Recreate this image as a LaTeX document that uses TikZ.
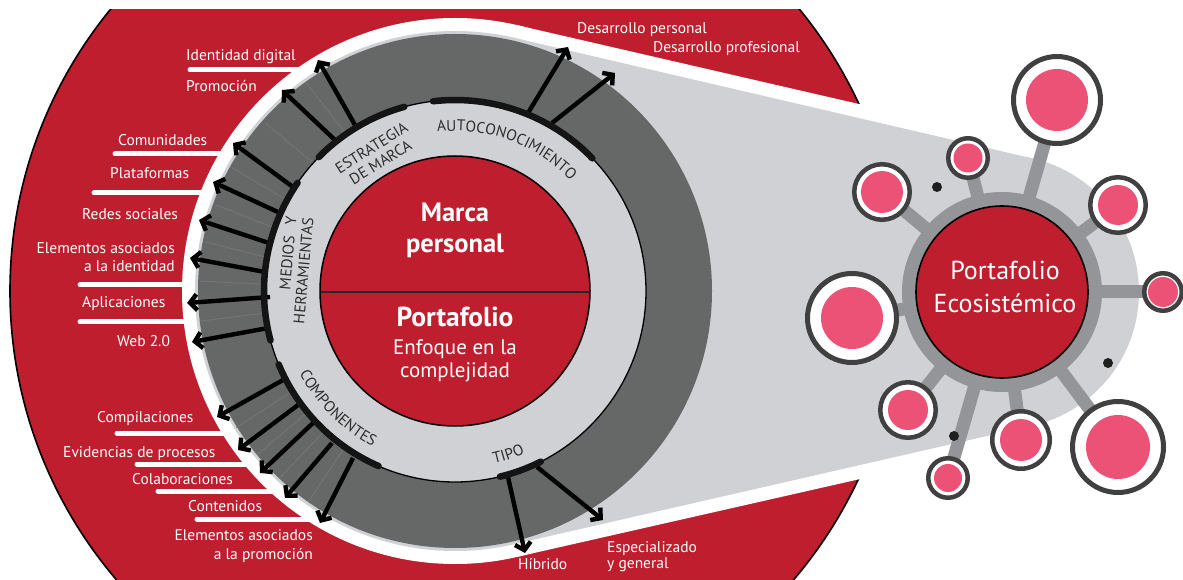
\documentclass[tikz,border=0pt]{standalone}
\usepackage{fontspec}
\setmainfont{PT Sans}
\usetikzlibrary{arrows.meta,decorations.text,calc}
\definecolor{cred}{HTML}{BE1E2D}
\definecolor{cdark}{HTML}{666867}
\definecolor{clight}{HTML}{D0D1D4}
\definecolor{cspoke}{HTML}{939598}
\definecolor{cpink}{HTML}{EC5276}
\definecolor{csat}{HTML}{404041}
\definecolor{ctext}{HTML}{2E2E2E}
\definecolor{csep}{HTML}{767877}
\newcommand{\ringfont}{\fontsize{15.5}{17}\selectfont}
\begin{document}
\begin{tikzpicture}[x=1pt,y=1pt,
  lbl/.style={text=white,font=\fontsize{15.5}{16}\selectfont,inner sep=0pt},
  ringtxt/.style={text=ctext,font=\ringfont,inner sep=0pt},
  ctr/.style={text=white,inner sep=0pt,anchor=base},
  arr/.style={line width=4.4pt,-{Straight Barb[length=7pt,width=16pt]}},
  bar/.style={white,line width=5pt,line cap=round},
  segarc/.style={line width=6.5pt,line cap=round,color=black!92},
  sepline/.style={csep,line width=0.8pt},
  spoke/.style={cspoke,line width=13pt},
  sat/.style={circle,fill=white,draw=csat,inner sep=0pt},
  dot/.style={circle,fill=black!88,inner sep=0pt,minimum size=10pt}]
\fill[white] (0,0) rectangle (1183,579);
\useasboundingbox (0,0) rectangle (1183,579);
\coordinate (C1) at (455,288);
\coordinate (C2) at (1002,287);
% big red disk
\begin{scope}
\clip (0,0) rectangle (1183,569);
\filldraw[fill=cred,draw=black,line width=1.6pt] (C1) circle[radius=445];
\end{scope}
% white hull
\fill[white] (C1) circle[radius=273];
\fill[white] (C2) circle[radius=151];
\fill[white] (515.9,554.1) -- (1035.7,434.2) -- (1035.7,139.8) -- (515.9,21.9) -- cycle;
% white bars
\foreach \i/\a/\b/\y in {1/190/325/509,2/115/245/425,3/94/225/386,4/80/205/294,5/80/207/257,6/117/247/146,7/137/271/115,8/158/299/88,9/197/340/60}{
  \coordinate (b\i a) at (\a,\y);
  \coordinate (b\i b) at (\b,\y);
  \draw[bar] (b\i a) -- (b\i b);
}
% light gray hull
\fill[clight] (C1) circle[radius=260];
\fill[clight] (C2) circle[radius=137];
\fill[clight] (513.5,541.3) -- (1032.8,420.5) -- (1032.8,153.5) -- (513.5,34.7) -- cycle;
% rings
\fill[cdark] (C1) circle[radius=257];
% arrow coordinates
\foreach \n/\sx/\sy/\ex/\ey in {1/355/454/318/519,2/335/439/282/489,3/293/392/233/436,4/280/366/213/397,5/269/336/199/359,6/265/307/190/321,7/270/282/187/276,8/268/251/192/237,9/283/199/217/162,10/298/174/238/129,11/313/156/260/106,12/332/136/285/81,13/353/121/320/56,14/528/466/568/532,15/552/456/615/506,16/508/102/525/26,17/537/112/603/59}{
  \coordinate (a\n s) at (\sx,\sy);
  \coordinate (a\n e) at (\ex,\ey);
}
% faint segment separators in the dark ring
\foreach \u/\v in {1/2,2/3,3/4,4/5,5/6,6/7,7/8,9/10,10/11,11/12,12/13}{
  \draw[sepline] ($(a\u s)!0.5!(a\v s)$) -- ($($(a\u s)!0.5!(a\v s)$)!0.86!($(a\u e)!0.5!(a\v e)$)$);
}
\filldraw[fill=clight,draw=black,line width=1.3pt] (C1) circle[radius=191];
\filldraw[fill=cred,draw=black,line width=1.5pt] (C1) circle[radius=135];
\draw[line width=1.5pt,black!85] (320.5,287) -- (589.5,287);
% arrows
\foreach \n in {1,...,17}{
  \draw[arr] (a\n s) -- (a\n e);
}
% thick segment arcs
\foreach \p/\q in {105.4/135.5,44/96.6,145.5/195,202.6/246.4,283.6/296.7}{
  \draw[segarc] ($(C1)+(\p:191)$) arc[start angle=\p,end angle=\q,radius=191];
}
% ring texts
\path[decorate,decoration={text along path,text align=center,text color=ctext,text={|\ringfont|AUTOCONOCIMIENTO}}]
  ($(C1)+(108:160)$) arc[start angle=108,end angle=32,radius=160];
\path[decorate,decoration={text along path,text align=center,text color=ctext,text={|\ringfont|COMPONENTES}}]
  ($(C1)+(192:176)$) arc[start angle=192,end angle=258,radius=176];
\path[decorate,decoration={text along path,text align=center,text color=ctext,text={|\ringfont|TIPO}}]
  ($(C1)+(268:177)$) arc[start angle=268,end angle=308,radius=177];
\node[ringtxt,rotate=32,align=center] (estr) at (376,424) {ESTRATEGIA\\DE MARCA};
\node[ringtxt,rotate=85,align=right] (med) at (295,309) {MEDIOS\hspace{0.7em}Y\\HERRAMIENTAS};
% center texts
\node[ctr,font=\bfseries\fontsize{26.5}{28}\selectfont] (m1) at (455,357) {Marca};
\node[ctr,font=\bfseries\fontsize{26.5}{28}\selectfont] (m2) at (455,326) {personal};
\node[ctr,font=\bfseries\fontsize{27.5}{28}\selectfont] (p1) at (455,252) {Portafolio};
\node[ctr,font=\fontsize{21}{24}\selectfont] (p2) at (455,225) {Enfoque en la};
\node[ctr,font=\fontsize{21}{24}\selectfont] (p3) at (455,202) {complejidad};
% labels
\node[lbl,anchor=base west] (t1) at (186,518) {Identidad digital};
\node[lbl,anchor=base west] (t2) at (186,487) {Promoción};
\node[lbl,anchor=base west] (t3) at (118,433) {Comunidades};
\node[lbl,anchor=base west] (t4) at (110,400) {Plataformas};
\node[lbl,anchor=base west] (t5) at (82,359) {Redes sociales};
\node[lbl,anchor=base east] (t6a) at (175,325) {Elementos asociados};
\node[lbl,anchor=base east] (t6b) at (175,307) {a la identidad};
\node[lbl,anchor=base west] (t7) at (82,271) {Aplicaciones};
\node[lbl,anchor=base west] (t8) at (117,233) {Web 2.0};
\node[lbl,anchor=base west] (t9) at (97,157) {Compilaciones};
\node[lbl,anchor=base west] (t10) at (63,122) {Evidencias de procesos};
\node[lbl,anchor=base west] (t11) at (132,95) {Colaboraciones};
\node[lbl,anchor=base west] (t12) at (188,68) {Contenidos};
\node[lbl,anchor=base east] (t13a) at (313,39) {Elementos asociados};
\node[lbl,anchor=base east] (t13b) at (313,20) {a la promoción};
\node[lbl,anchor=base west] (t14) at (577,545) {Desarrollo personal};
\node[lbl,anchor=base west] (t15) at (653,526) {Desarrollo profesional};
\node[lbl,anchor=base west] (t16) at (518,10) {Híbrido};
\node[lbl,anchor=base west] (t17a) at (607,27) {Especializado};
\node[lbl,anchor=base west] (t17b) at (607,11) {y general};
% ecosystem
\foreach \n/\x/\y in {1/1057/479,2/968/421,3/882/387,4/1118/374,5/1163/287,6/852/261,7/908/169,8/948/101,9/1021/139,10/1118/132}{
  \coordinate (p\n) at (\x,\y);
  \draw[spoke] (C2) -- (p\n);
}
\fill[cspoke] (C2) circle[radius=100];
\node[circle,fill=cred,draw=black,line width=1.6pt,minimum size=172pt,inner sep=0pt] (eco) at (C2) {};
\node[ctr,font=\fontsize{26}{30}\selectfont] (e1) at (1005,299) {Portafolio};
\node[ctr,font=\fontsize{26}{30}\selectfont] (e2) at (1005,266) {Ecosistémico};
\foreach \n/\R/\pr/\w in {1/46/31/5,2/22/14.5/4.5,3/30/21/4.5,4/30/20/4.5,5/21/15/4.5,6/47/31/5,7/30/20/4.5,8/22/14/4.5,9/31/21/4.5,10/48/32/5}{
  \pgfmathsetmacro\ms{2*\R-\w}
  \node[sat,line width=\w pt,minimum size=\ms pt] (s\n) at (p\n) {};
  \fill[cpink] (s\n.center) circle[radius=\pr];
}
\node[dot] (d1) at (937,392) {};
\node[dot] (d2) at (1108,216) {};
\node[dot] (d3) at (954,143) {};
\end{tikzpicture}
\end{document}
